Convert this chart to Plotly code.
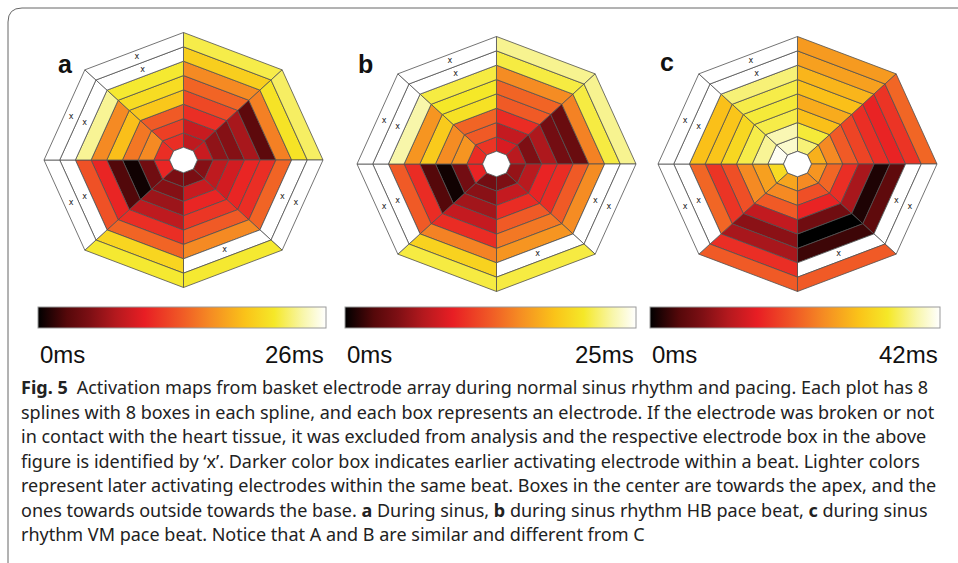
import math
import plotly.graph_objects as go
from plotly.colors import sample_colorscale

W, H = 958, 563

# ---------------- data ----------------
panel_labels = ["a", "b", "c"]
time_max_ms = [26, 25, 42]

# Activation time (ms) per electrode box.
# Rows: 8 splines, clockwise starting at 12 o'clock.
# Columns: 8 boxes, from the centre (apex) to the outside (base).
# None = electrode excluded (box marked 'x').
act_a = [
    [7.5, 8, 10.5, 12, 13.5, 15.5, 19.5, 22],
    [8, 5.5, 5, 6.5, 3, 15, 21, 22.5],
    [5, 7.5, 8.5, 10, 10.5, 13.5, None, None],
    [4.5, 8, 10, 11, 13, 15.5, None, 21.5],
    [4.5, 5, 6, 7.5, 10.5, 13.5, 20, 21.5],
    [10, 4, 0.5, 2.5, 10, 12.5, None, None],
    [10.5, 15.5, 14.5, 18.5, 15.5, 23.5, None, None],
    [10.5, 11.5, 13, 19, 20.5, 21.5, None, None],
]
act_b = [
    [8.5, 7.5, 10, 12.5, 13, 15, 21, 22.5],
    [7, 4.5, 6.5, 4, 3.5, 14.5, 21, 22.5],
    [5.5, 7, 9.5, 10, 12.5, 15, None, None],
    [4.5, 7.5, 10, 12.5, 14, 15.5, None, 21],
    [4, 5, 6, 7.5, 10, 14.5, 19, 21],
    [9.5, 4, 0.5, 2.5, 10, 12.5, None, None],
    [10, 15.5, 15, 18.5, 15.5, 23, None, None],
    [10.5, 12.5, 13, 20, 20.5, 21, None, None],
]
act_c = [
    [37, 35, 30, 28, 30, 29, 27, 26.5],
    [28.5, 25, 21, 19, 17, 16, 17.5, 22],
    [26, 22, 17, 10.5, 1.5, 5, None, None],
    [25, 20, 16, 6.5, 0, 3, None, 21],
    [27.5, 25, 21, 12.5, 8.5, 10.5, 17, 21],
    [33, 27, 25, 20, 17.5, 22, None, None],
    [41.5, 38, 35.5, 32.5, 30.5, 30, None, None],
    [40, 39, 35.5, 35, 35.5, 37, None, None],
]
activation = [act_a, act_b, act_c]

caption_lines = [
    "<b>Fig. 5</b>\u2002Activation maps from basket electrode array during normal sinus rhythm and pacing. Each plot has 8",
    "splines with 8 boxes in each spline, and each box represents an electrode. If the electrode was broken or not",
    "in contact with the heart tissue, it was excluded from analysis and the respective electrode box in the above",
    "figure is identified by \u2018x\u2019. Darker color box indicates earlier activating electrode within a beat. Lighter colors",
    "represent later activating electrodes within the same beat. Boxes in the center are towards the apex, and the",
    "ones towards outside towards the base. <b>a</b> During sinus, <b>b</b> during sinus rhythm HB pace beat, <b>c</b> during sinus",
    "rhythm VM pace beat. Notice that A and B are similar and different from C",
]

# ---------------- style / layout ----------------
colorscale = [
    [0.0, "rgb(0,0,0)"],
    [0.1, "rgb(85,8,10)"],
    [0.18, "rgb(125,15,20)"],
    [0.27, "rgb(180,25,30)"],
    [0.37, "rgb(232,30,36)"],
    [0.5, "rgb(240,90,38)"],
    [0.6, "rgb(245,140,35)"],
    [0.72, "rgb(250,195,25)"],
    [0.82, "rgb(245,232,40)"],
    [0.92, "rgb(248,246,170)"],
    [1.0, "rgb(255,255,255)"],
]

panel_cx = [183.5, 496.5, 797.5]
panel_cy = [160, 164, 164]
rad_x, rad_y = 139.5, 127.5
pad = 1.03
bar_x0 = [38, 345, 650]
bar_x1 = [326, 636, 940]
bar_top, bar_th = 307, 21
label_xy = [(56, 48), (365, 48), (676, 46)]

R_IN = 0.1
N_RING = 8
ring_edges = [R_IN + (1 - R_IN) * i / N_RING for i in range(N_RING + 1)]
EDGE = "#505050"

fig = go.Figure()


def polar_xy(r, ang):
    a = math.radians(ang)
    return r * math.cos(a), r * math.sin(a)


for p in range(3):
    sfx = "" if p == 0 else str(p + 1)
    xa, ya = "x" + sfx, "y" + sfx
    tmax = time_max_ms[p]
    cx_list, cy_list, cv_list = [], [], []
    xx, xy = [], []
    for s, spline in enumerate(activation[p]):
        a0 = 90 - 45 * s
        a1 = a0 - 45
        for b, v in enumerate(spline):
            r0, r1 = ring_edges[b], ring_edges[b + 1]
            pts = [polar_xy(r0, a0), polar_xy(r1, a0), polar_xy(r1, a1), polar_xy(r0, a1), polar_xy(r0, a0)]
            fill = "white" if v is None else sample_colorscale(colorscale, [v / tmax])[0]
            fig.add_trace(go.Scatter(
                x=[q[0] for q in pts], y=[q[1] for q in pts], mode="lines",
                fill="toself", fillcolor=fill, line=dict(color=EDGE, width=0.8),
                hoverinfo="skip", showlegend=False, xaxis=xa, yaxis=ya))
            mx = sum(q[0] for q in pts[:4]) / 4
            my = sum(q[1] for q in pts[:4]) / 4
            if v is None:
                xx.append(mx)
                xy.append(my)
            else:
                cx_list.append(mx)
                cy_list.append(my)
                cv_list.append(v)
    # central hole
    hole = [polar_xy(R_IN, 90 - 45 * k) for k in range(9)]
    fig.add_trace(go.Scatter(
        x=[q[0] for q in hole], y=[q[1] for q in hole], mode="lines", fill="toself",
        fillcolor="white", line=dict(color=EDGE, width=0.8), hoverinfo="skip",
        showlegend=False, xaxis=xa, yaxis=ya))
    # excluded electrode marks
    fig.add_trace(go.Scatter(
        x=xx, y=xy, mode="text", text=["x"] * len(xx),
        textfont=dict(size=8, color="#222", family="DejaVu Sans"),
        hoverinfo="skip", showlegend=False, xaxis=xa, yaxis=ya))
    # carrier of the colour scale (invisible markers)
    fig.add_trace(go.Scatter(
        x=cx_list, y=cy_list, mode="markers",
        marker=dict(color=cv_list, coloraxis="coloraxis" + sfx, size=2, opacity=0),
        hoverinfo="skip", showlegend=False, xaxis=xa, yaxis=ya))

    fig.update_layout(**{
        "xaxis" + sfx: dict(domain=[(panel_cx[p] - rad_x * pad) / W, (panel_cx[p] + rad_x * pad) / W],
                            range=[-pad, pad], visible=False, anchor=ya, fixedrange=True),
        "yaxis" + sfx: dict(domain=[1 - (panel_cy[p] + rad_y * pad) / H, 1 - (panel_cy[p] - rad_y * pad) / H],
                            range=[-pad, pad], visible=False, anchor=xa, fixedrange=True),
        "coloraxis" + sfx: dict(
            colorscale=colorscale, cmin=0, cmax=tmax,
            colorbar=dict(orientation="h", x=(bar_x0[p] + bar_x1[p]) / 2 / W, xanchor="center",
                          y=1 - bar_top / H, yanchor="top", len=bar_x1[p] - bar_x0[p], lenmode="pixels",
                          thickness=bar_th, thicknessmode="pixels", outlinewidth=1, outlinecolor="#9a9a9a",
                          showticklabels=False, ticks="", xpad=0, ypad=0)),
    })

    fig.add_annotation(x=label_xy[p][0] / W, y=1 - label_xy[p][1] / H, xref="paper", yref="paper",
                       text="<b>%s</b>" % panel_labels[p], showarrow=False,
                       font=dict(family="Liberation Sans, Arial", size=25, color="#111"))
    fig.add_annotation(x=bar_x0[p] / W, y=1 - 355 / H, xref="paper", yref="paper", xanchor="left",
                       yanchor="middle", text="0ms", showarrow=False,
                       font=dict(family="Liberation Sans Narrow, Liberation Sans, Arial", size=24, color="#111"))
    fig.add_annotation(x=bar_x1[p] / W, y=1 - 355 / H, xref="paper", yref="paper", xanchor="right",
                       yanchor="middle", text="%dms" % tmax, showarrow=False,
                       font=dict(family="Liberation Sans Narrow, Liberation Sans, Arial", size=24, color="#111"))

# caption
for i, line in enumerate(caption_lines):
    fig.add_annotation(x=19 / W, y=1 - (387 + 24.5 * i) / H, xref="paper", yref="paper",
                       xanchor="left", yanchor="middle", text=line, showarrow=False,
                       font=dict(family="Noto Sans", size=18, color="#222"))

# frame of the figure box
fig.add_shape(type="path", xref="paper", yref="paper",
              path="M %f,%f L %f,%f Q %f,%f %f,%f L %f,%f" % (
                  8 / W, 0, 8 / W, 1 - 22 / H, 8 / W, 1 - 8 / H, 22 / W, 1 - 8 / H, 1, 1 - 8 / H),
              line=dict(color="#666", width=1))

fig.update_layout(width=W, height=H, margin=dict(l=0, r=0, t=0, b=0),
                  paper_bgcolor="white", plot_bgcolor="white", showlegend=False)

fig.write_html("out.html", config={"displayModeBar": False},
               post_script="document.body.style.margin='0';document.body.style.overflow='hidden';")
